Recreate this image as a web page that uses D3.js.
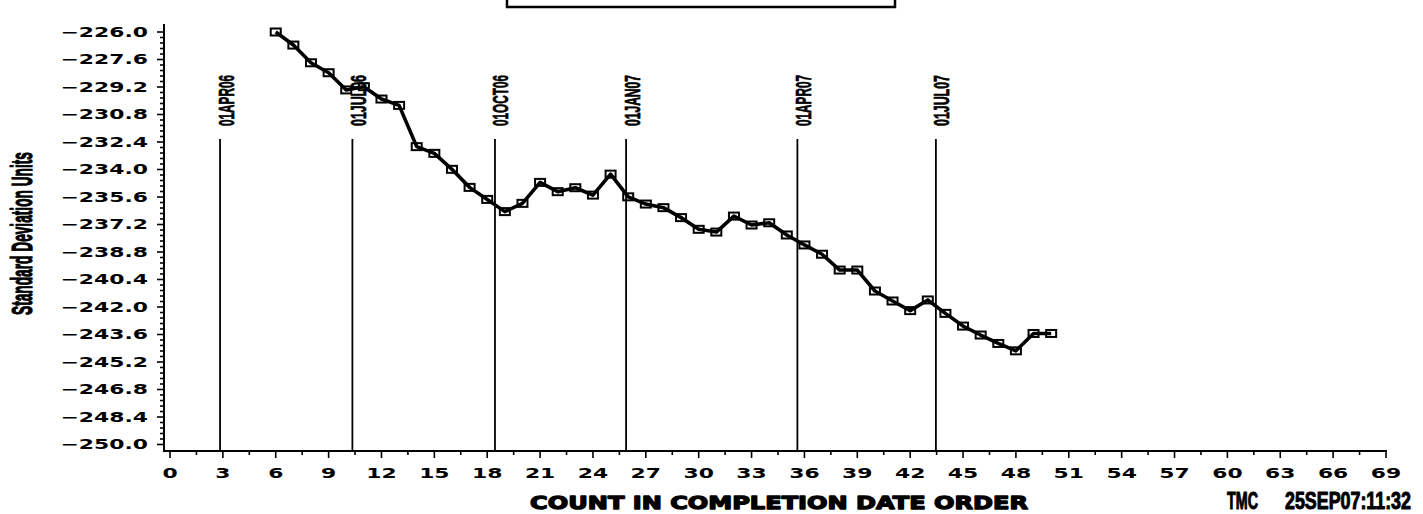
<!DOCTYPE html>
<html>
<head>
<meta charset="utf-8">
<script src="https://cdn.jsdelivr.net/npm/d3@7"></script>
<style>
  html, body { margin: 0; padding: 0; background: #fff; }
  svg { display: block; }
</style>
</head>
<body>
<svg id="chart" width="1423" height="514"></svg>
<script>
// ---------------- data ----------------
const counts = [6, 7, 8, 9, 10, 11, 12, 13, 14, 15, 16, 17, 18, 19, 20, 21, 22, 23, 24, 25,
  26, 27, 28, 29, 30, 31, 32, 33, 34, 35, 36, 37, 38, 39, 40, 41, 42, 43, 44, 45,
  46, 47, 48, 49, 50];
const sdValues = [-226.00, -226.76, -227.79, -228.37, -229.37, -229.18, -229.90, -230.27, -232.67, -233.06,
  -233.99, -235.04, -235.74, -236.45, -235.97, -234.75, -235.29, -235.06, -235.49, -234.27,
  -235.59, -236.01, -236.22, -236.80, -237.48, -237.64, -236.71, -237.23, -237.10, -237.81,
  -238.39, -238.93, -239.85, -239.85, -241.07, -241.65, -242.21, -241.59, -242.37, -243.11,
  -243.63, -244.12, -244.55, -243.54, -243.54];
const refDates = ["01APR06", "01JUL06", "01OCT06", "01JAN07", "01APR07", "01JUL07"];
const refCounts = [2.84, 10.35, 18.44, 25.88, 35.6, 43.46];
const xTickValues = [0, 3, 6, 9, 12, 15, 18, 21, 24, 27, 30, 33, 36, 39, 42, 45, 48, 51, 54, 57, 60, 63, 66, 69];
const yTickValues = [-226.0, -227.6, -229.2, -230.8, -232.4, -234.0, -235.6, -237.2, -238.8, -240.4,
  -242.0, -243.6, -245.2, -246.8, -248.4, -250.0];
const yTickLabels = ["\u2212226.0", "\u2212227.6", "\u2212229.2", "\u2212230.8", "\u2212232.4", "\u2212234.0",
  "\u2212235.6", "\u2212237.2", "\u2212238.8", "\u2212240.4", "\u2212242.0", "\u2212243.6", "\u2212245.2",
  "\u2212246.8", "\u2212248.4", "\u2212250.0"];
const xTitle = "COUNT IN COMPLETION DATE ORDER";
const yTitle = "Standard Deviation Units";
const footLeft = "TMC";
const footRight = "25SEP07:11:32";

// ---------------- layout ----------------
const svg = d3.select("#chart");
const x = d3.scaleLinear().domain([0, 69]).range([170, 1386]);
const y = d3.scaleLinear().domain([-250, -226]).range([444.5, 32]);
const axisX = 164, axisY = 451;
const tickFont = "'DejaVu Sans', sans-serif";
const narrow = "'Liberation Sans Narrow', 'Liberation Sans', Arial, sans-serif";

// helper: text squeezed/stretched horizontally to a target width
function fitText(parent, str, opts) {
  const g = parent.append("g");
  const t = g.append("text")
    .attr("font-family", opts.family).attr("font-weight", "bold")
    .attr("font-size", opts.size).attr("text-anchor", opts.anchor || "start")
    .text(str);
  if (opts.heavy) t.attr("stroke", "#000").attr("stroke-width", opts.heavy).attr("stroke-linejoin", "round");
  const w = t.node().getComputedTextLength();
  const sx = opts.width / w;
  g.attr("transform", `translate(${opts.x},${opts.y}) rotate(${opts.rotate || 0}) scale(${sx},1)`);
  return g;
}

// title box (cut at top)
svg.append("rect").attr("x", 507).attr("y", -20).attr("width", 388).attr("height", 27)
  .attr("fill", "none").attr("stroke", "#000").attr("stroke-width", 2.5);

// reference lines
const refs = svg.append("g");
refCounts.forEach((c, i) => {
  const px = x(c);
  refs.append("line").attr("x1", px).attr("x2", px).attr("y1", 139).attr("y2", axisY)
    .attr("stroke", "#000").attr("stroke-width", 1.8);
  fitText(refs, refDates[i], { family: narrow, size: 22, width: 51, x: px + 13.5, y: 126, rotate: -90, heavy: 0.7 });
});

// axes lines
svg.append("line").attr("x1", axisX).attr("x2", axisX).attr("y1", 24).attr("y2", axisY + 1)
  .attr("stroke", "#000").attr("stroke-width", 2);
svg.append("line").attr("x1", axisX - 1).attr("x2", x(69) + 1).attr("y1", axisY).attr("y2", axisY)
  .attr("stroke", "#000").attr("stroke-width", 2);

// y ticks
const yMinor = d3.range(0, 76).map(k => -226 - 0.32 * k);
svg.append("g").selectAll("line").data(yMinor).join("line")
  .attr("x1", (d, i) => i % 5 === 0 ? axisX - 7 : axisX - 4).attr("x2", axisX)
  .attr("y1", d => y(d)).attr("y2", d => y(d))
  .attr("stroke", "#000").attr("stroke-width", 1.6);
svg.append("g").selectAll("g").data(yTickValues).join("g")
  .attr("transform", d => `translate(148,${y(d) + 4.9}) scale(1.62,1)`)
  .append("text").attr("text-anchor", "end")
  .attr("font-family", tickFont).attr("font-weight", "bold").attr("font-size", 13.5)
  .text((d, i) => yTickLabels[i]);

// x ticks
const xMinor = d3.range(0, 47).map(k => 1.5 * k);
svg.append("g").selectAll("line").data(xMinor).join("line")
  .attr("x1", d => x(d)).attr("x2", d => x(d))
  .attr("y1", axisY).attr("y2", (d, i) => i % 2 === 0 ? axisY + 7 : axisY + 4)
  .attr("stroke", "#000").attr("stroke-width", 1.6);
svg.append("g").selectAll("g").data(xTickValues).join("g")
  .attr("transform", d => `translate(${x(d)},477.5) scale(1.62,1)`)
  .append("text").attr("text-anchor", "middle")
  .attr("font-family", tickFont).attr("font-weight", "bold").attr("font-size", 13.5)
  .text(d => d);

// data line
const pts = counts.map((c, i) => [c, sdValues[i]]);
svg.append("path").datum(pts)
  .attr("d", d3.line().x(d => x(d[0])).y(d => y(d[1])))
  .attr("fill", "none").attr("stroke", "#000").attr("stroke-width", 3.6)
  .attr("stroke-linejoin", "round");
svg.append("g").selectAll("rect").data(pts).join("rect")
  .attr("x", d => x(d[0]) - 5).attr("y", d => y(d[1]) - 3.5)
  .attr("width", 10).attr("height", 7)
  .attr("fill", "none").attr("stroke", "#000").attr("stroke-width", 2);

// titles
fitText(svg, xTitle, { family: tickFont, size: 18, width: 498, x: 779, y: 508.5, anchor: "middle", heavy: 1.3 });
fitText(svg, yTitle, { family: narrow, size: 30, width: 163, x: 32, y: 233.5, anchor: "middle", rotate: -90, heavy: 1.2 });
fitText(svg, footLeft, { family: narrow, size: 23, width: 31, x: 1227, y: 508.5, heavy: 1 });
fitText(svg, footRight, { family: narrow, size: 23, width: 126, x: 1285, y: 508.5, heavy: 1 });
</script>
</body>
</html>
